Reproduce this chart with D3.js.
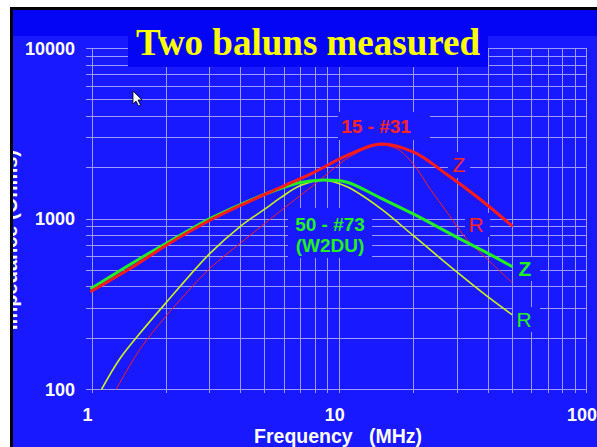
<!DOCTYPE html>
<html><head><meta charset="utf-8">
<script src="https://cdn.jsdelivr.net/npm/d3@7"></script>
<style>html,body{margin:0;padding:0;background:#fff;overflow:hidden}svg{display:block}</style>
</head><body>
<svg id="c" width="597" height="447"></svg>
<script>
// ---- data ----
const title = "Two baluns measured";
const xTicks = [1, 10, 100];
const yTicks = [100, 1000, 10000];
const xLabel = "Frequency   (MHz)";
const yLabel = "Impedance (Ohms)";

const z31Freq = [1, 1.5, 2, 3, 4, 5.8, 7.9, 10.8, 14.7, 20.1, 27.4, 37.4, 50];
const z31Vals = [375, 530, 695, 973, 1192, 1520, 1860, 2344, 2736, 2450, 1811, 1292, 910];
const r31Freq = [1.26, 1.57, 2, 3, 4, 5, 5.8, 7, 7.9, 10.8, 13, 14.7, 17.2, 20.1, 23.5, 27.4, 33, 40, 50];
const r31Vals = [100, 171, 267, 507, 716, 930, 1104, 1368, 1567, 2250, 2580, 2700, 2565, 2074, 1479, 1090, 754, 575, 423];
const z73Freq = [1, 1.5, 2, 3, 4, 5, 5.8, 7, 8.7, 10.8, 14.7, 20.1, 30.1, 39.8, 50];
const z73Vals = [390, 560, 713, 996, 1208, 1383, 1500, 1625, 1680, 1633, 1322, 1060, 775, 629, 525];
const r73Freq = [1.1, 1.3, 1.57, 2, 3, 4, 5, 5.8, 7, 8.7, 10.8, 14.7, 20.1, 30.1, 39.8, 50];
const r73Vals = [100, 150, 212, 320, 620, 900, 1130, 1320, 1560, 1675, 1534, 1150, 790, 484, 350, 274];

const series = [
  {f: r31Freq, v: r31Vals, color: "#ff1a1a", w: 1},
  {f: r73Freq, v: r73Vals, color: "#ccf020", w: 1.6},
  {f: z73Freq, v: z73Vals, color: "#22f022", w: 3},
  {f: z31Freq, v: z31Vals, color: "#ff1a1a", w: 3}
];

const labels = [
  {text: "15 - #31", x: 376, y: 133, color: "#ff2222", size: 19, weight: "bold", box: [338, 112, 92, 28]},
  {text: "Z", x: 459, y: 172, color: "#ff2222", size: 21, weight: "normal", box: [448, 152, 22, 26]},
  {text: "R", x: 476, y: 232, color: "#ff2222", size: 21, weight: "normal", box: [465, 213, 25, 24]},
  {text: "Z", x: 525, y: 276, color: "#22f022", size: 21, weight: "bold", box: [513, 257, 27, 24]},
  {text: "R", x: 524, y: 327, color: "#22f022", size: 21, weight: "normal", box: [513, 307, 27, 25]},
  {text: "50 - #73", x: 330, y: 231, color: "#22f022", size: 19, weight: "bold", box: [288, 208, 84, 50]},
  {text: "(W2DU)", x: 330, y: 252, color: "#22f022", size: 19, weight: "bold", box: null}
];

// ---- drawing ----
const OUTER = "#0505f6", INNER = "#1919ff", GRID = "#9a9aff";
const svg = d3.select("#c");
const x = d3.scaleLog().domain([1, 100]).range([91.5, 586]);
const y = d3.scaleLog().domain([100, 10000]).range([389, 48]);

svg.append("rect").attr("x", 10).attr("y", 7).attr("width", 587).attr("height", 440).attr("fill", "#000");
svg.append("rect").attr("x", 13).attr("y", 10).attr("width", 584).attr("height", 437).attr("fill", OUTER);
svg.append("rect").attr("x", 13).attr("y", 36).attr("width", 584).attr("height", 411).attr("fill", INNER);

// grid
const yGrid = [];
for (let d = 100; d < 10000; d *= 10) for (let m = 1; m < 10; m++) yGrid.push(d * m);
yGrid.push(10000);
const xGrid = [];
for (let d = 1; d < 100; d *= 10) for (let m = 1; m < 10; m++) xGrid.push(d * m);
xGrid.push(100);
const g = svg.append("g").attr("stroke", GRID).attr("stroke-width", 1).attr("shape-rendering", "crispEdges");
g.selectAll(".hy").data(yGrid).enter().append("line")
  .attr("x1", 86).attr("x2", 586).attr("y1", d => Math.round(y(d)) + 0.5).attr("y2", d => Math.round(y(d)) + 0.5);
g.selectAll(".vx").data(xGrid).enter().append("line")
  .attr("y1", 48).attr("y2", 393).attr("x1", d => Math.round(x(d)) + 0.5).attr("x2", d => Math.round(x(d)) + 0.5);

// title box
svg.append("rect").attr("x", 128).attr("y", 10).attr("width", 360).attr("height", 57).attr("fill", OUTER);
svg.append("text").attr("x", 308).attr("y", 55).attr("text-anchor", "middle")
  .attr("font-family", "'Liberation Serif','Times New Roman',serif").attr("font-weight", "bold")
  .attr("font-size", 37).attr("fill", "#ffff00").text(title);

// label boxes
svg.selectAll(".lb").data(labels.filter(d => d.box)).enter().append("rect")
  .attr("x", d => d.box[0]).attr("y", d => d.box[1]).attr("width", d => d.box[2]).attr("height", d => d.box[3])
  .attr("fill", INNER);

// curves
const line = d3.line().x(d => x(d[0])).y(d => y(d[1])).curve(d3.curveCatmullRom.alpha(0.5));
svg.selectAll(".s").data(series).enter().append("path")
  .attr("d", s => line(s.f.map((f, i) => [f, s.v[i]])))
  .attr("fill", "none").attr("stroke", s => s.color).attr("stroke-width", s => s.w)
  .attr("stroke-linejoin", "round").attr("stroke-linecap", "round");

// curve labels
svg.selectAll(".lt").data(labels).enter().append("text")
  .attr("x", d => d.x).attr("y", d => d.y).attr("text-anchor", "middle")
  .attr("font-family", "'Liberation Sans',Arial,sans-serif").attr("font-weight", d => d.weight)
  .attr("font-size", d => d.size).attr("fill", d => d.color).text(d => d.text);

// tick labels
const tf = "'Liberation Sans',Arial,sans-serif";
svg.selectAll(".yt").data(yTicks).enter().append("text")
  .attr("x", 75).attr("y", d => y(d) + 6.5).attr("text-anchor", "end")
  .attr("font-family", tf).attr("font-weight", "bold").attr("font-size", 18).attr("fill", "#fff")
  .text(d => d);
svg.selectAll(".xt").data(xTicks).enter().append("text")
  .attr("x", d => x(d) - 4).attr("y", 421).attr("text-anchor", "middle")
  .attr("font-family", tf).attr("font-weight", "bold").attr("font-size", 18).attr("fill", "#fff")
  .text(d => d);
svg.append("text").attr("x", 338).attr("y", 443).attr("text-anchor", "middle")
  .attr("font-family", tf).attr("font-weight", "bold").attr("font-size", 19.5).attr("fill", "#fff")
  .attr("xml:space", "preserve").style("white-space", "pre").text(xLabel);
svg.append("text").attr("transform", "translate(17,240) rotate(-90)").attr("text-anchor", "middle")
  .attr("font-family", tf).attr("font-weight", "bold").attr("font-size", 20).attr("fill", "#fff")
  .text(yLabel);

// mouse cursor
svg.append("path").attr("d", "M133,91 L133,104 L136,101 L138.5,106 L140.5,105 L138,100 L142,100 Z")
  .attr("fill", "#fff").attr("stroke", "#000").attr("stroke-width", 0.8);

// frame edge over the y label
svg.append("rect").attr("x", 0).attr("y", 0).attr("width", 10).attr("height", 447).attr("fill", "#fff");
svg.append("rect").attr("x", 0).attr("y", 0).attr("width", 597).attr("height", 7).attr("fill", "#fff");
svg.append("rect").attr("x", 10).attr("y", 7).attr("width", 3).attr("height", 440).attr("fill", "#000");
</script>
</body></html>
